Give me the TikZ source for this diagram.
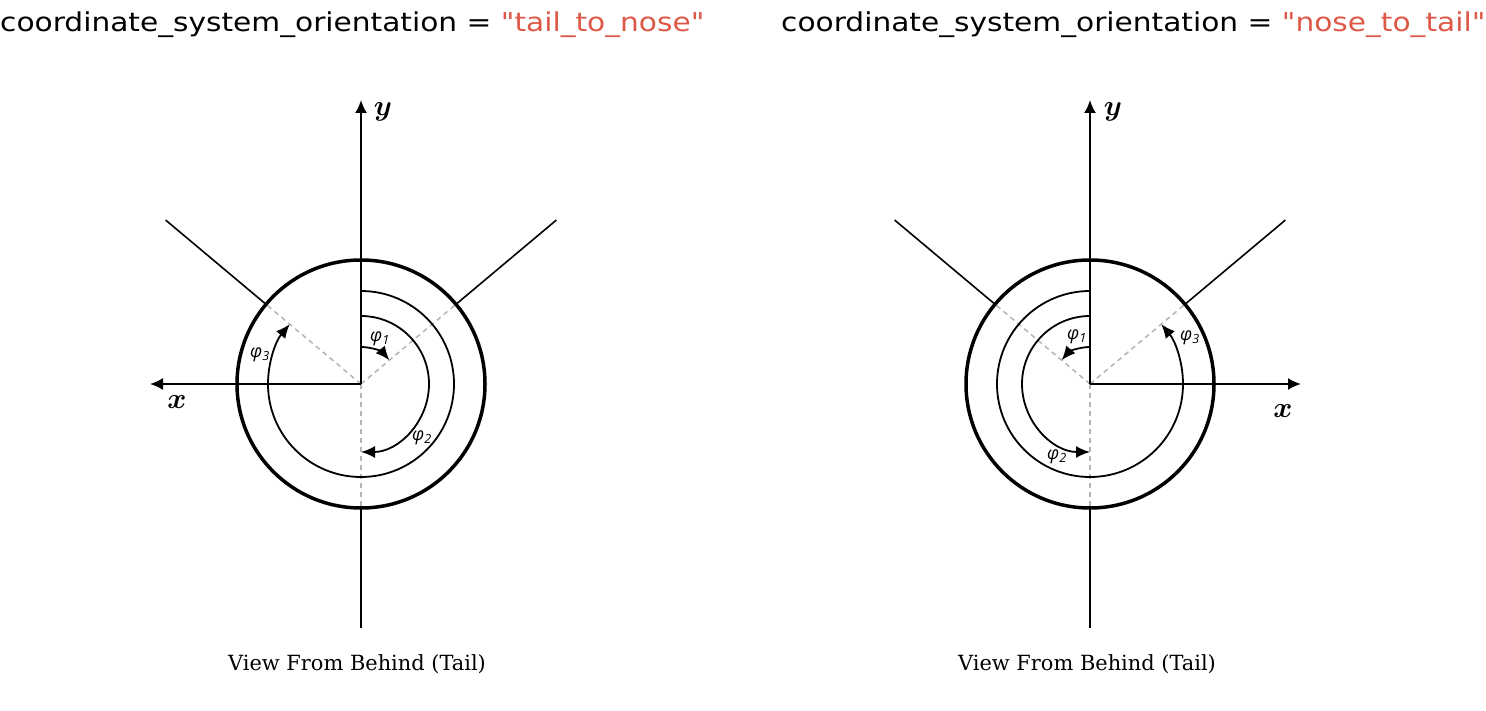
\RequirePackage{fix-cm}
\documentclass[tikz,border=0pt]{standalone}
\usepackage{fontspec}
\usepackage{amsmath}
\setmainfont{DejaVu Serif}
\newfontfamily\titlefont[FakeStretch=1.14]{DejaVu Sans}
\newfontfamily\phifont{Open Sans}
\usetikzlibrary{arrows.meta, positioning, calc}
\definecolor{grey}{RGB}{180,180,180}
\definecolor{salmon}{RGB}{222,88,72}

\tikzset{
    axis/.style={-{Latex[length=13pt,width=12pt]}, line width=2pt},
    guide/.style={grey, dash pattern=on 5pt off 4pt, line width=1.5pt},
    ring/.style={line width=3.5pt},
    spoke/.style={line width=1.6pt},
    sweep/.style={-{Latex[length=14pt,width=12pt]}, line width=1.8pt},
    philabel/.style={font=\phifont\itshape\fontsize{18}{20}\selectfont, inner sep=0},
    axlabel/.style={font=\fontsize{29}{32}\selectfont, inner sep=0},
    title/.style={anchor=base west, inner sep=0, font=\titlefont\fontsize{26}{30}\selectfont},
    caption/.style={anchor=base, inner sep=0, font=\fontsize{20.9}{24}\selectfont}
}

\begin{document}
\begin{tikzpicture}[x=1pt, y=1pt]
        \useasboundingbox (0,0) rectangle (1486,710);

        % centres
        \coordinate (cL) at (361,326);
        \coordinate (cR) at (1090,326);

        % titles
        \node[title] (tL) at (0,678) {coordinate\_system\_orientation = \textcolor{salmon}{"tail\_to\_nose"}};
        \node[title] (tR) at (781,678) {coordinate\_system\_orientation = \textcolor{salmon}{"nose\_to\_tail"}};

        \node[caption] (vL) at (357,40) {View From Behind (Tail)};
        \node[caption] (vR) at (1087,40) {View From Behind (Tail)};

        %left view: tail to nose
        \coordinate (ytL) at ($(cL)+(0,284)$);
        \coordinate (ybL) at ($(cL)+(0,-244)$);
        \coordinate (xL) at ($(cL)+(-211,0)$);
        \coordinate (sL) at ($(cL)+(0,-124)$);
        \coordinate (aL) at ($(cL)+(40:124)$);
        \coordinate (bL) at ($(cL)+(140:124)$);
        \coordinate (AL) at ($(cL)+(40:255)$);
        \coordinate (BL) at ($(cL)+(140:255)$);

        \draw[guide] (cL) -- (aL);
        \draw[guide] (cL) -- (bL);
        \draw[guide] (cL) -- (sL);
        \draw[spoke] (aL) -- (AL);
        \draw[spoke] (bL) -- (BL);
        \draw[ring] (cL) circle (124);

        \draw[axis] (cL) -- (ytL);
        \draw[axis] (cL) -- (xL);
        \draw[line width=2pt] (sL) -- (ybL);

        \draw[sweep] ($(cL)+(90:37)$) arc[start angle=90, end angle=40, radius=37];
        \draw[sweep] ($(cL)+(90:68)$) arc[start angle=90, end angle=-90, radius=68];
        \draw[sweep] ($(cL)+(90:93)$) arc[start angle=90, end angle=-220, radius=93];

        \node[axlabel] (yLab) at ($(cL)+(22,272)$) {$\boldsymbol{y}$};
        \node[axlabel] (xLab) at ($(cL)+(-184,-18)$) {$\boldsymbol{x}$};
        \node[philabel] (p1L) at ($(cL)+(19,45)$) {φ\textsubscript{1}};
        \node[philabel] (p2L) at ($(cL)+(61,-54)$) {φ\textsubscript{2}};
        \node[philabel] (p3L) at ($(cL)+(-101,29)$) {φ\textsubscript{3}};

        %right view: nose to tail
        \coordinate (ytR) at ($(cR)+(0,284)$);
        \coordinate (ybR) at ($(cR)+(0,-244)$);
        \coordinate (xR) at ($(cR)+(211,0)$);
        \coordinate (sR) at ($(cR)+(0,-124)$);
        \coordinate (aR) at ($(cR)+(40:124)$);
        \coordinate (bR) at ($(cR)+(140:124)$);
        \coordinate (AR) at ($(cR)+(40:255)$);
        \coordinate (BR) at ($(cR)+(140:255)$);

        \draw[guide] (cR) -- (aR);
        \draw[guide] (cR) -- (bR);
        \draw[guide] (cR) -- (sR);
        \draw[spoke] (aR) -- (AR);
        \draw[spoke] (bR) -- (BR);
        \draw[ring] (cR) circle (124);

        \draw[axis] (cR) -- (ytR);
        \draw[axis] (cR) -- (xR);
        \draw[line width=2pt] (sR) -- (ybR);

        \draw[sweep] ($(cR)+(90:37)$) arc[start angle=90, end angle=140, radius=37];
        \draw[sweep] ($(cR)+(90:68)$) arc[start angle=90, end angle=270, radius=68];
        \draw[sweep] ($(cR)+(90:93)$) arc[start angle=90, end angle=400, radius=93];

        \node[axlabel] (yLabR) at ($(cR)+(23,272)$) {$\boldsymbol{y}$};
        \node[axlabel] (xLabR) at ($(cR)+(193,-27)$) {$\boldsymbol{x}$};
        \node[philabel] (p1R) at ($(cR)+(-13,47)$) {φ\textsubscript{1}};
        \node[philabel] (p2R) at ($(cR)+(-33,-73)$) {φ\textsubscript{2}};
        \node[philabel] (p3R) at ($(cR)+(100,46)$) {φ\textsubscript{3}};

\end{tikzpicture}
\end{document}
